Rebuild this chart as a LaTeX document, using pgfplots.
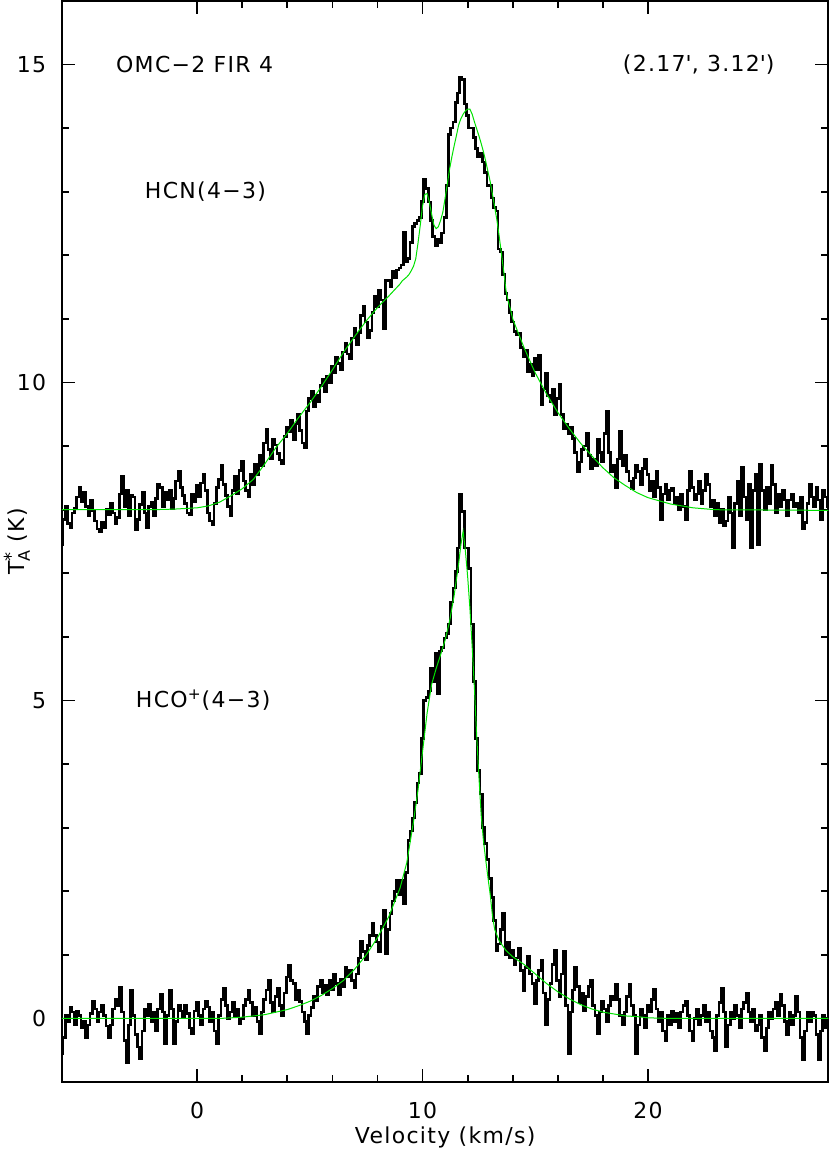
\documentclass[border=0pt]{standalone}
\usepackage{fontspec}
\setmainfont{DejaVu Sans}[LetterSpace=6]
\usepackage{pgfplots}
\pgfplotsset{compat=1.18}
\definecolor{fitgreen}{RGB}{0,225,0}

\begin{document}
\fontsize{11}{13}\selectfont
\begin{tikzpicture}
\begin{axis}[name=ax, scale only axis, width=383.5pt, height=541pt,
  font=\fontsize{11}{13}\selectfont,
  xmin=-6, xmax=28, ymin=-1, ymax=16,
  xtick={0,10,20}, ytick={0,5,10,15},
  minor x tick num=4, minor y tick num=4,
  tick align=inside, major tick length=6.5pt, minor tick length=3.5pt,
  axis line style={line width=1pt}, tick style={line width=0.9pt,black},
  /pgf/number format/assume math mode=true,
  xticklabel style={yshift=-6pt}, yticklabel style={xshift=-4pt},
  xlabel={Velocity (km/s)},
  ylabel={T\rlap{\raisebox{0.6ex}{\small *}}\raisebox{-0.45ex}{\footnotesize A}\ (K)},
  xlabel style={at={(axis description cs:0.5,-0.0407)},anchor=north,inner sep=0pt},
  ylabel style={at={(axis description cs:-0.0587,0.5)},anchor=center,inner sep=0pt},
]
% HCN(4-3), offset by 8 K
\addplot[const plot mark mid, black, line width=1.3pt] coordinates {
(-6.0,7.45)(-5.9,7.85)(-5.8,8.05)(-5.7,7.78)(-5.6,7.72)(-5.5,7.95)(-5.4,8.02)(-5.3,8.20)(-5.2,8.35)(-5.1,8.12)
(-5.0,8.28)(-4.9,8.05)(-4.8,7.90)(-4.7,8.15)(-4.6,7.98)(-4.5,7.82)(-4.4,7.70)(-4.3,7.65)(-4.2,7.80)(-4.1,7.72)
(-4.0,8.00)(-3.9,7.92)(-3.8,8.10)(-3.7,7.95)(-3.6,7.78)(-3.5,7.88)(-3.4,8.25)(-3.3,8.52)(-3.2,8.05)(-3.1,8.30)
(-3.0,7.90)(-2.9,8.22)(-2.8,8.20)(-2.7,7.68)(-2.6,7.85)(-2.5,8.08)(-2.4,8.28)(-2.3,7.95)(-2.2,7.72)(-2.1,8.05)
(-2.0,8.12)(-1.9,7.90)(-1.8,8.18)(-1.7,8.40)(-1.6,8.35)(-1.5,8.05)(-1.4,8.28)(-1.3,8.15)(-1.2,8.30)(-1.1,8.02)
(-1.0,8.18)(-0.9,8.45)(-0.8,8.60)(-0.7,8.35)(-0.6,8.22)(-0.5,8.10)(-0.4,7.95)(-0.3,7.92)(-0.2,8.25)(-0.1,8.12)
(0.0,8.38)(0.1,8.20)(0.2,8.42)(0.3,8.55)(0.4,8.30)(0.5,7.95)(0.6,7.82)(0.7,7.76)(0.8,8.10)(0.9,8.35)
(1.0,8.48)(1.1,8.70)(1.2,8.40)(1.3,8.22)(1.4,8.05)(1.5,7.90)(1.6,8.30)(1.7,8.52)(1.8,8.25)(1.9,8.62)
(2.0,8.76)(2.1,8.45)(2.2,8.30)(2.3,8.20)(2.4,8.55)(2.5,8.40)(2.6,8.72)(2.7,8.55)(2.8,8.85)(2.9,8.70)
(3.0,9.05)(3.1,9.26)(3.2,8.95)(3.3,8.80)(3.4,9.10)(3.5,9.02)(3.6,8.88)(3.7,8.78)(3.8,8.73)(3.9,9.15)
(4.0,9.30)(4.1,9.22)(4.2,9.40)(4.3,9.10)(4.4,9.35)(4.5,9.50)(4.6,9.25)(4.7,9.05)(4.8,8.97)(4.9,9.55)
(5.0,9.75)(5.1,9.86)(5.2,9.62)(5.3,9.80)(5.4,9.70)(5.5,9.95)(5.6,10.05)(5.7,9.85)(5.8,10.10)(5.9,10.00)
(6.0,10.25)(6.1,10.15)(6.2,10.40)(6.3,10.30)(6.4,10.20)(6.5,10.48)(6.6,10.62)(6.7,10.45)(6.8,10.38)(6.9,10.70)
(7.0,10.85)(7.1,10.60)(7.2,10.78)(7.3,11.05)(7.4,11.20)(7.5,10.95)(7.6,10.70)(7.7,10.82)(7.8,11.10)(7.9,11.35)
(8.0,11.20)(8.1,11.45)(8.2,11.30)(8.3,10.85)(8.4,11.60)(8.5,11.60)(8.6,11.50)(8.7,11.75)(8.8,11.65)(8.9,11.77)
(9.0,11.80)(9.1,11.85)(9.2,12.37)(9.3,11.90)(9.4,11.95)(9.5,12.20)(9.6,12.45)(9.7,12.50)(9.8,12.55)(9.9,12.60)
(10.0,12.85)(10.1,13.20)(10.2,13.05)(10.3,12.84)(10.4,12.55)(10.5,12.30)(10.6,12.15)(10.7,12.26)(10.8,12.20)(10.9,12.35)
(11.0,12.60)(11.1,13.10)(11.2,13.90)(11.3,14.00)(11.4,14.10)(11.5,14.40)(11.6,14.55)(11.7,14.80)(11.8,14.77)(11.9,14.38)
(12.0,14.20)(12.1,14.00)(12.2,14.00)(12.3,13.85)(12.4,13.68)(12.5,13.55)(12.6,13.60)(12.7,13.47)(12.8,13.30)(12.9,13.10)
(13.0,13.10)(13.1,12.90)(13.2,12.75)(13.3,12.70)(13.4,12.10)(13.5,12.05)(13.6,11.70)(13.7,11.40)(13.8,11.30)(13.9,11.10)
(14.0,10.95)(14.1,10.80)(14.2,10.75)(14.3,10.77)(14.4,10.55)(14.5,10.40)(14.6,10.50)(14.7,10.17)(14.8,10.28)(14.9,10.10)
(15.0,10.38)(15.1,10.20)(15.2,10.43)(15.3,9.65)(15.4,9.90)(15.5,10.15)(15.6,9.80)(15.7,9.70)(15.8,9.90)(15.9,9.50)
(16.0,9.75)(16.1,9.98)(16.2,9.50)(16.3,9.28)(16.4,9.35)(16.5,9.20)(16.6,9.30)(16.7,9.12)(16.8,8.90)(16.9,8.60)
(17.0,8.75)(17.1,8.95)(17.2,9.00)(17.3,9.20)(17.4,8.85)(17.5,8.65)(17.6,8.80)(17.7,8.70)(17.8,9.10)(17.9,8.90)
(18.0,8.75)(18.1,9.20)(18.2,9.54)(18.3,8.90)(18.4,8.60)(18.5,8.70)(18.6,8.34)(18.7,8.80)(18.8,9.23)(18.9,8.70)
(19.0,8.85)(19.1,8.60)(19.2,8.45)(19.3,8.33)(19.4,8.50)(19.5,8.70)(19.6,8.60)(19.7,8.40)(19.8,8.65)(19.9,8.80)
(20.0,8.55)(20.1,8.30)(20.2,8.45)(20.3,8.20)(20.4,8.60)(20.5,8.35)(20.6,7.85)(20.7,8.25)(20.8,8.40)(20.9,8.15)
(21.0,8.30)(21.1,8.34)(21.2,8.10)(21.3,8.20)(21.4,8.00)(21.5,8.25)(21.6,8.05)(21.7,7.85)(21.8,8.30)(21.9,8.60)
(22.0,8.35)(22.1,8.15)(22.2,8.25)(22.3,8.45)(22.4,8.10)(22.5,8.30)(22.6,8.55)(22.7,8.40)(22.8,8.05)(22.9,8.15)
(23.0,7.90)(23.1,8.10)(23.2,7.80)(23.3,8.00)(23.4,7.75)(23.5,7.82)(23.6,8.20)(23.7,7.95)(23.8,7.40)(23.9,8.10)
(24.0,8.45)(24.1,7.90)(24.2,8.66)(24.3,8.20)(24.4,7.85)(24.5,8.40)(24.6,7.40)(24.7,8.30)(24.8,8.55)(24.9,7.45)
(25.0,8.71)(25.1,8.30)(25.2,8.00)(25.3,8.35)(25.4,8.10)(25.5,8.70)(25.6,8.40)(25.7,7.95)(25.8,8.25)(25.9,8.05)
(26.0,8.30)(26.1,8.15)(26.2,7.90)(26.3,8.15)(26.4,8.25)(26.5,8.05)(26.6,8.10)(26.7,7.95)(26.8,8.20)(26.9,7.70)
(27.0,7.80)(27.1,8.10)(27.2,8.40)(27.3,8.20)(27.4,8.05)(27.5,8.35)(27.6,8.15)(27.7,7.85)(27.8,8.30)(27.9,8.20)
(28.0,8.05)
};
% HCO+(4-3)
\addplot[const plot mark mid, black, line width=1.3pt] coordinates {
(-6.0,-0.55)(-5.9,-0.30)(-5.8,0.05)(-5.7,-0.05)(-5.6,0.17)(-5.5,0.10)(-5.4,-0.10)(-5.3,0.12)(-5.2,0.05)(-5.1,-0.15)
(-5.0,-0.05)(-4.9,-0.30)(-4.8,-0.10)(-4.7,0.08)(-4.6,0.27)(-4.5,0.15)(-4.4,-0.05)(-4.3,0.10)(-4.2,0.20)(-4.1,0.05)
(-4.0,-0.12)(-3.9,-0.30)(-3.8,-0.10)(-3.7,0.15)(-3.6,0.30)(-3.5,0.20)(-3.4,0.49)(-3.3,0.10)(-3.2,-0.35)(-3.1,-0.69)
(-3.0,-0.10)(-2.9,0.44)(-2.8,0.05)(-2.7,-0.25)(-2.6,-0.45)(-2.5,-0.63)(-2.4,-0.20)(-2.3,0.15)(-2.2,0.05)(-2.1,0.22)
(-2.0,-0.05)(-1.9,0.10)(-1.8,-0.20)(-1.7,0.15)(-1.6,0.38)(-1.5,0.10)(-1.4,-0.40)(-1.3,0.05)(-1.2,0.44)(-1.1,0.15)
(-1.0,-0.40)(-0.9,-0.05)(-0.8,0.20)(-0.7,0.12)(-0.6,0.02)(-0.5,0.20)(-0.4,0.08)(-0.3,-0.15)(-0.2,-0.24)(-0.1,0.12)
(0.0,0.25)(0.1,0.05)(0.2,-0.10)(0.3,0.15)(0.4,0.27)(0.5,0.18)(0.6,-0.05)(0.7,0.10)(0.8,-0.20)(0.9,-0.40)
(1.0,0.05)(1.1,0.30)(1.2,0.48)(1.3,0.20)(1.4,0.00)(1.5,0.10)(1.6,0.25)(1.7,0.05)(1.8,0.15)(1.9,-0.08)
(2.0,0.00)(2.1,0.20)(2.2,0.30)(2.3,0.44)(2.4,0.25)(2.5,0.05)(2.6,0.18)(2.7,-0.05)(2.8,-0.24)(2.9,0.10)
(3.0,0.30)(3.1,0.45)(3.2,0.60)(3.3,0.25)(3.4,0.10)(3.5,0.35)(3.6,0.48)(3.7,0.20)(3.8,0.05)(3.9,0.40)
(4.0,0.65)(4.1,0.83)(4.2,0.60)(4.3,0.55)(4.4,0.30)(4.5,0.45)(4.6,0.27)(4.7,0.10)(4.8,-0.05)(4.9,-0.24)
(5.0,0.05)(5.1,0.17)(5.2,0.35)(5.3,0.28)(5.4,0.50)(5.5,0.60)(5.6,0.40)(5.7,0.52)(5.8,0.38)(5.9,0.60)
(6.0,0.45)(6.1,0.70)(6.2,0.55)(6.3,0.38)(6.4,0.62)(6.5,0.50)(6.6,0.80)(6.7,0.65)(6.8,0.75)(6.9,0.60)
(7.0,0.49)(7.1,0.70)(7.2,0.95)(7.3,1.22)(7.4,1.05)(7.5,0.92)(7.6,1.15)(7.7,1.30)(7.8,1.49)(7.9,1.30)
(8.0,1.20)(8.1,1.05)(8.2,1.45)(8.3,1.70)(8.4,1.02)(8.5,1.40)(8.6,1.65)(8.7,1.85)(8.8,2.00)(8.9,2.17)
(9.0,1.95)(9.1,2.17)(9.2,1.80)(9.3,2.30)(9.4,2.80)(9.5,2.95)(9.6,3.15)(9.7,3.40)(9.8,3.70)(9.9,3.85)
(10.0,4.40)(10.1,5.00)(10.2,5.05)(10.3,5.15)(10.4,5.50)(10.5,5.30)(10.6,5.75)(10.7,5.10)(10.8,5.78)(10.9,5.83)
(11.0,5.98)(11.1,6.05)(11.2,6.20)(11.3,6.55)(11.4,6.77)(11.5,7.03)(11.6,7.40)(11.7,8.24)(11.8,7.97)(11.9,7.40)
(12.0,7.40)(12.1,7.08)(12.2,6.20)(12.3,5.30)(12.4,4.40)(12.5,3.90)(12.6,3.53)(12.7,3.00)(12.8,2.75)(12.9,2.50)
(13.0,2.20)(13.1,1.90)(13.2,1.54)(13.3,1.07)(13.4,1.17)(13.5,1.40)(13.6,1.65)(13.7,1.00)(13.8,1.20)(13.9,0.95)
(14.0,1.07)(14.1,0.85)(14.2,0.95)(14.3,1.10)(14.4,0.75)(14.5,0.44)(14.6,0.80)(14.7,0.97)(14.8,0.70)(14.9,0.55)
(15.0,0.23)(15.1,0.60)(15.2,0.75)(15.3,0.92)(15.4,0.40)(15.5,-0.10)(15.6,0.30)(15.7,0.55)(15.8,0.85)(15.9,1.07)
(16.0,0.60)(16.1,0.35)(16.2,0.70)(16.3,1.05)(16.4,0.20)(16.5,-0.55)(16.6,0.10)(16.7,0.45)(16.8,0.80)(16.9,0.50)
(17.0,0.25)(17.1,0.40)(17.2,0.12)(17.3,0.35)(17.4,0.50)(17.5,0.60)(17.6,0.20)(17.7,0.05)(17.8,-0.24)(17.9,0.10)
(18.0,0.27)(18.1,0.15)(18.2,-0.05)(18.3,0.20)(18.4,0.35)(18.5,0.30)(18.6,0.54)(18.7,0.30)(18.8,0.05)(18.9,-0.10)
(19.0,0.10)(19.1,0.35)(19.2,0.54)(19.3,0.20)(19.4,0.05)(19.5,-0.55)(19.6,-0.10)(19.7,0.15)(19.8,0.05)(19.9,-0.15)
(20.0,0.20)(20.1,0.10)(20.2,0.30)(20.3,0.46)(20.4,0.15)(20.5,-0.05)(20.6,0.10)(20.7,-0.20)(20.8,-0.35)(20.9,0.05)
(21.0,-0.10)(21.1,0.12)(21.2,-0.05)(21.3,0.08)(21.4,-0.15)(21.5,0.10)(21.6,0.20)(21.7,0.27)(21.8,0.05)(21.9,-0.20)
(22.0,-0.35)(22.1,0.00)(22.2,0.15)(22.3,-0.10)(22.4,0.05)(22.5,0.20)(22.6,-0.05)(22.7,0.10)(22.8,-0.20)(22.9,-0.30)
(23.0,-0.50)(23.1,0.05)(23.2,0.25)(23.3,0.48)(23.4,0.10)(23.5,-0.45)(23.6,-0.10)(23.7,0.10)(23.8,0.00)(23.9,0.20)
(24.0,0.05)(24.1,-0.15)(24.2,0.15)(24.3,0.25)(24.4,0.40)(24.5,0.10)(24.6,-0.05)(24.7,0.15)(24.8,-0.20)(24.9,-0.10)
(25.0,0.05)(25.1,-0.30)(25.2,-0.50)(25.3,-0.15)(25.4,0.10)(25.5,0.00)(25.6,0.15)(25.7,0.25)(25.8,0.05)(25.9,0.38)
(26.0,0.20)(26.1,-0.05)(26.2,-0.25)(26.3,0.10)(26.4,-0.10)(26.5,0.05)(26.6,0.35)(26.7,0.10)(26.8,-0.30)(26.9,-0.65)
(27.0,-0.20)(27.1,0.10)(27.2,-0.05)(27.3,0.10)(27.4,0.05)(27.5,-0.25)(27.6,-0.65)(27.7,-0.20)(27.8,0.05)(27.9,-0.15)
(28.0,0.00)
};
% Gaussian fits
\addplot[fitgreen, line width=0.5pt] coordinates {
(-6,8.00)(-4,8.00)(-2,8.00)(-1,8.01)(0,8.03)(0.5,8.06)(1,8.12)(1.5,8.22)(2,8.33)(2.5,8.48)(3,8.72)(3.5,8.98)
(4,9.20)(4.5,9.45)(5,9.68)(5.5,9.93)(6,10.20)(6.5,10.48)(7,10.73)(7.5,10.97)(8,11.18)(8.5,11.36)
(9.0,11.55)(9.1,11.60)(9.2,11.63)(9.3,11.66)(9.4,11.70)(9.5,11.76)(9.6,11.83)(9.7,11.95)(9.8,12.20)(9.9,12.48)
(10.0,12.78)(10.1,12.96)(10.2,12.97)(10.3,12.84)(10.4,12.65)(10.5,12.48)(10.6,12.42)(10.7,12.45)(10.8,12.55)(10.9,12.68)
(11.0,12.90)(11.1,13.13)(11.2,13.36)(11.3,13.55)(11.4,13.72)(11.5,13.88)(11.6,14.05)(11.7,14.15)(11.8,14.22)(11.9,14.27)
(12.0,14.30)(12.1,14.30)(12.2,14.22)(12.3,14.10)(12.4,13.99)(12.5,13.88)(12.6,13.76)(12.7,13.63)(12.8,13.48)(12.9,13.32)
(13.0,13.16)(13.1,12.96)(13.2,12.76)(13.3,12.55)(13.4,12.30)(13.5,12.02)(13.6,11.75)(13.7,11.45)(13.8,11.28)(13.9,11.15)
(14.0,11.00)(14.5,10.55)(15,10.15)(15.5,9.82)(16,9.53)(16.5,9.28)(17,9.05)(17.5,8.85)(18,8.66)(18.5,8.50)
(19,8.38)(19.5,8.27)(20,8.19)(21,8.09)(22,8.03)(23,8.00)(28,7.99)
};
\addplot[fitgreen, line width=0.5pt] coordinates {
(-6,0.00)(1,0.00)(1.5,0.01)(2,0.02)(2.5,0.04)(3,0.06)(3.5,0.10)(4,0.14)(4.5,0.20)(5,0.27)(5.5,0.36)(6,0.47)
(6.5,0.60)(7,0.78)(7.5,1.00)(8,1.27)(8.5,1.60)(9.0,2.05)(9.3,2.45)(9.6,3.10)(9.8,3.60)(10.0,4.20)(10.2,4.80)
(10.4,5.25)(10.6,5.50)(10.8,5.72)(11.0,5.95)(11.2,6.25)(11.4,6.65)(11.6,7.15)(11.7,7.45)(11.8,7.66)(11.9,7.35)
(12.0,6.95)(12.1,6.45)(12.2,5.85)(12.3,5.20)(12.4,4.45)(12.5,3.80)(12.6,3.20)(12.7,2.80)(12.8,2.50)(12.9,2.22)
(13.0,1.95)(13.1,1.62)(13.2,1.40)(13.4,1.22)(13.7,1.07)(14.0,0.97)(14.5,0.85)(15.0,0.70)(15.5,0.55)(16.0,0.42)
(16.5,0.31)(17.0,0.22)(17.5,0.15)(18.0,0.10)(18.5,0.07)(19.0,0.04)(19.5,0.03)(20,0.01)(21,0.00)(28,0.00)
};
\node[anchor=west] at (axis cs:-3.94,15) {OMC−2 FIR 4};
\node[anchor=east] at (axis cs:25.96,15) {(2.17\textquotesingle, 3.12\textquotesingle)};
\node[anchor=west] at (axis cs:-2.66,13) {HCN(4−3)};
\node[anchor=west] at (axis cs:-3.06,5) {HCO\textsuperscript{+}(4−3)};
\end{axis}
\pgfresetboundingbox
\path[use as bounding box] ([xshift=-31pt,yshift=-34pt]ax.south west) rectangle ([xshift=0.5pt,yshift=0.5pt]ax.north east);
\end{tikzpicture}
\end{document}
